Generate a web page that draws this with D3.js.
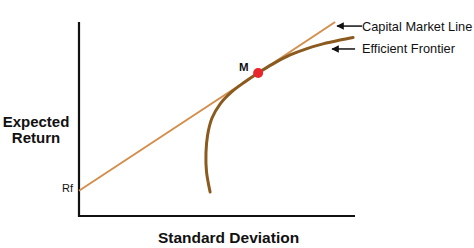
<!DOCTYPE html>
<html>
<head>
<meta charset="utf-8">
<script src="https://cdn.jsdelivr.net/npm/d3@7"></script>
<style>
    html, body { margin: 0; padding: 0; background: #fff; }
    svg { display: block; font-family: "Liberation Sans", Arial, sans-serif; }
</style>
</head>
<body>
<svg class="chart"></svg>
<script>
// chart data (standard deviation / expected return, in axis units 0..100)
var frontierSd  = [47.5, 46.2, 46.0, 46.6, 48.2, 51.1, 55.1, 59.8, 64.9, 70.3, 76.5, 82.6, 88.4, 94.6, 99.3];
var frontierRet = [12.4, 22.7, 32.5, 41.8, 50.5, 57.7, 63.7, 68.8, 73.7, 78.4, 83.0, 86.3, 88.7, 90.7, 92.0];
var cmlSd  = [0, 64.9, 92.8];
var cmlRet = [13.0, 73.7, 100.0];
var market = { sd: 64.9, ret: 73.7, label: 'M' };
var riskFree = { ret: 13.0, label: 'Rf' };
var notes = ['Capital Market Line', 'Efficient Frontier'];
var noteSd  = [93.5, 91.7];
var noteRet = [97.9, 86.1];

(function () {
    var width = 474, height = 248;

    var svg = d3.select('.chart')
        .attr('width', width)
        .attr('height', height);

    // scales: plot area is bounded by the two axis lines
    var x = d3.scaleLinear().domain([0, 100]).range([79, 355]);
    var y = d3.scaleLinear().domain([0, 100]).range([216, 22]);

    // arrowhead for the annotation pointers
    svg.append('defs').append('marker')
        .attr('id', 'arrow')
        .attr('viewBox', '0 0 10 10')
        .attr('refX', 9)
        .attr('refY', 5)
        .attr('markerWidth', 5)
        .attr('markerHeight', 5)
        .attr('orient', 'auto')
        .append('path')
            .attr('d', 'M0,0L10,5L0,10z')
            .attr('fill', '#111');

    // axes (plain lines, no ticks)
    svg.append('path')
        .attr('d', 'M' + x(0) + ',' + y(100) + 'V' + y(0) + 'H' + x(100))
        .attr('fill', 'none')
        .attr('stroke', '#111')
        .attr('stroke-width', 2.2);

    // capital market line
    var line = d3.line()
        .x(function (d) { return x(d[0]); })
        .y(function (d) { return y(d[1]); });

    svg.append('path')
        .datum(d3.zip(cmlSd, cmlRet))
        .attr('d', line)
        .attr('fill', 'none')
        .attr('stroke', '#D48E4C')
        .attr('stroke-width', 2);

    // efficient frontier
    svg.append('path')
        .datum(d3.zip(frontierSd, frontierRet))
        .attr('d', line.curve(d3.curveCatmullRom.alpha(0.5)))
        .attr('fill', 'none')
        .attr('stroke', '#8A5A1E')
        .attr('stroke-width', 3)
        .attr('stroke-linecap', 'round');

    // market portfolio
    svg.append('circle')
        .attr('cx', x(market.sd))
        .attr('cy', y(market.ret))
        .attr('r', 5)
        .attr('fill', '#E8262B');

    svg.append('text')
        .attr('x', x(market.sd) - 19)
        .attr('y', y(market.ret) - 2)
        .attr('font-size', 11.5)
        .attr('font-weight', 'bold')
        .attr('fill', '#111')
        .text(market.label);

    svg.append('text')
        .attr('x', x(0) - 6)
        .attr('y', y(riskFree.ret) + 1.5)
        .attr('text-anchor', 'end')
        .attr('font-size', 11)
        .attr('fill', '#111')
        .text(riskFree.label);

    // annotation arrows + labels
    var note = svg.selectAll('.note')
        .data(d3.zip(notes, noteSd, noteRet))
        .enter().append('g')
            .attr('class', 'note');

    note.append('line')
        .attr('x1', function (d, i) { return x(d[1]) + (i ? 23 : 25); })
        .attr('x2', function (d) { return x(d[1]); })
        .attr('y1', function (d) { return y(d[2]); })
        .attr('y2', function (d) { return y(d[2]); })
        .attr('stroke', '#111')
        .attr('stroke-width', 1.5)
        .attr('marker-end', 'url(#arrow)');

    note.append('text')
        .attr('x', 362)
        .attr('y', function (d) { return y(d[2]) + 4.5; })
        .attr('font-size', 12.8)
        .attr('fill', '#111')
        .text(function (d) { return d[0]; });

    // axis titles
    svg.selectAll('.ytitle')
        .data(['Expected', 'Return'])
        .enter().append('text')
            .attr('class', 'ytitle')
            .attr('x', 36)
            .attr('y', function (d, i) { return 127 + i * 15.5; })
            .attr('text-anchor', 'middle')
            .attr('font-size', 15)
            .attr('font-weight', 'bold')
            .attr('fill', '#111')
            .text(function (d) { return d; });

    svg.append('text')
        .attr('x', 228.5)
        .attr('y', 243)
        .attr('text-anchor', 'middle')
        .attr('font-size', 15.5)
        .attr('font-weight', 'bold')
        .attr('fill', '#111')
        .text('Standard Deviation');
}());
</script>
</body>
</html>
